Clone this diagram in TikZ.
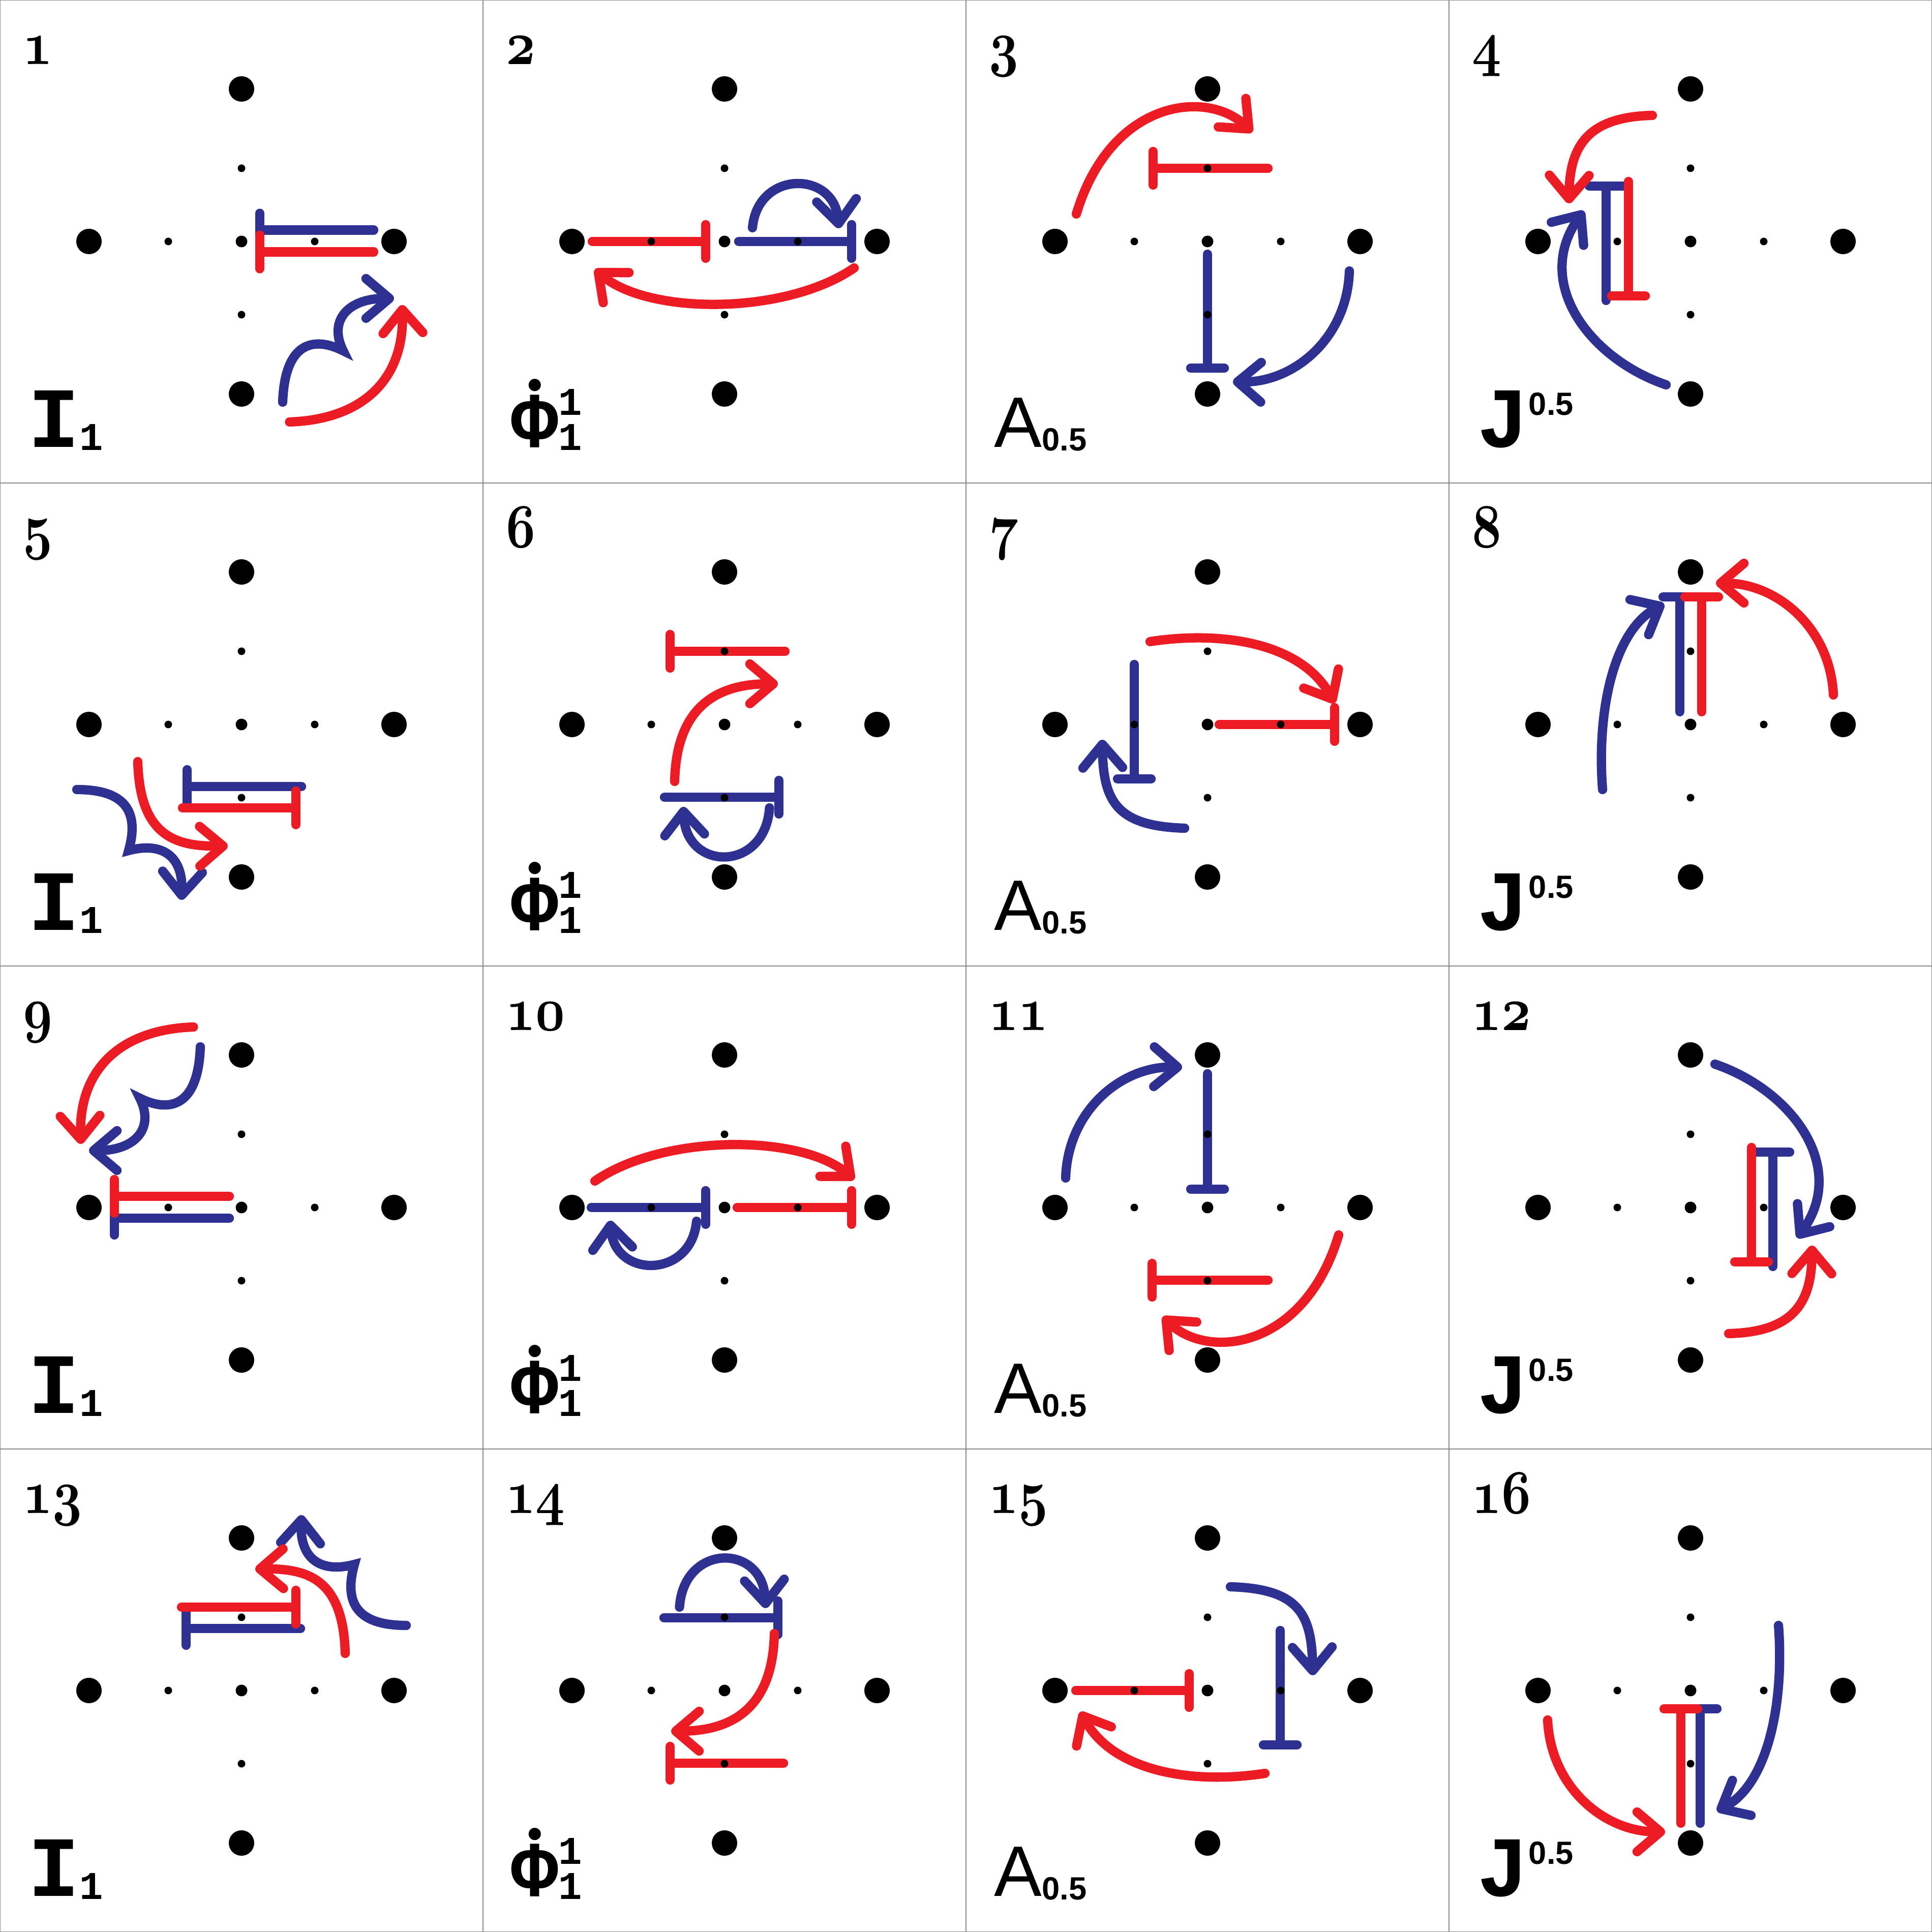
\documentclass[tikz,border=0pt]{standalone}
\usepackage{graphicx}
\usepackage{fontspec}
\usetikzlibrary{arrows.meta}
\newfontfamily\opmono{Liberation Mono}
\newfontfamily\opsans{Liberation Sans}
\definecolor{flipred}{HTML}{ED1C24}
\definecolor{flipblue}{HTML}{2E3192}
\definecolor{gridgray}{HTML}{8A8A8A}
% operator names under each panel
\newsavebox{\phibox}
\newcommand{\opI}{{\opmono\bfseries\fontsize{48}{48}\selectfont I\fontsize{22}{22}\selectfont\raisebox{-0.06cm}{1}}}
\newcommand{\opPhi}{{\opmono\bfseries\fontsize{44}{44}\selectfont
  \sbox{\phibox}{Φ}\rlap{\makebox[\wd\phibox]{\raisebox{\dimexpr\ht\phibox-0.08cm\relax}{\opsans\fontsize{24}{24}\selectfont •}}}\usebox{\phibox}%
  \fontsize{22}{22}\selectfont\rlap{\raisebox{0.63cm}{1}}\raisebox{-0.06cm}{1}}}
\newcommand{\opA}{{\opsans\fontsize{40}{40}\selectfont A\raisebox{-0.07cm}{\bfseries\fontsize{18}{18}\selectfont 0.5}}}
\newcommand{\opJ}{{\opmono\bfseries\fontsize{48}{48}\selectfont J\raisebox{0.63cm}{\opsans\bfseries\fontsize{18}{18}\selectfont 0.5}}}
\newcommand{\panelnum}[1]{\scalebox{1.15}[1.4]{\fontsize{24.88}{30}\usefont{OML}{cmm}{b}{it}#1}}
\tikzset{
  site/.style={circle, fill=black, inner sep=0pt, minimum size=5mm},
  core/.style={circle, fill=black, inner sep=0pt, minimum size=2.3mm},
  link/.style={circle, fill=black, inner sep=0pt, minimum size=1.5mm},
  gridline/.style={draw=gridgray, line width=0.8pt},
  redpath/.style={draw=flipred, line width=5.2pt, line cap=round},
  bluepath/.style={draw=flipblue, line width=5.2pt, line cap=round},
  hoparrow/.style={-{Straight Barb[length=4.6mm, width=7.8mm, round]}},
  tbar/.style={-{Bar[width=6.6mm, round]}},
  panelno/.style={anchor=base west, inner sep=0pt},
  opname/.style={anchor=base west, inner sep=0pt}
}

\begin{document}
\begin{tikzpicture}
  \useasboundingbox (0,0) rectangle (38,38);
  \fill[white] (0,0) rectangle (38,38);

  % grid of panels
  \draw[gridline] (0,0) rectangle (38,38);
  \foreach \t in {9.5,19,28.5} {
    \draw[gridline] (\t,0) -- (\t,38);
    \draw[gridline] (0,\t) -- (38,\t);
  }

  % panel 1
  \begin{scope}[shift={(4.75,33.25)}]
    \draw[bluepath, tbar] (2.6,0.224) -- (0.267,0.224);
    \draw[redpath, tbar] (2.6,-0.206) -- (0.267,-0.206);
    \draw[bluepath, hoparrow] (0.81,-3.16) .. controls (0.85,-2.0) and (1.4,-1.85) .. (2.0,-2.15)
      .. controls (1.7,-1.55) and (2.1,-1.12) .. (3.0,-1.12);
    \draw[redpath, hoparrow] (0.945,-3.55) .. controls (2.4,-3.5) and (3.2,-2.7) .. (3.16,-1.25);
  \end{scope}

  % panel 2
  \begin{scope}[shift={(14.25,33.25)}]
    \draw[redpath, tbar] (-2.6,0) -- (-0.28,0);
    \draw[bluepath, tbar] (0.28,0) -- (2.59,0);
    \draw[bluepath, hoparrow] (0.55,0.27) .. controls (0.65,1.4) and (2.15,1.4) .. (2.25,0.26);
    \draw[redpath, hoparrow] (2.55,-0.52) .. controls (1.2,-1.45) and (-1.5,-1.45) .. (-2.55,-0.55);
  \end{scope}

  % panel 3
  \begin{scope}[shift={(23.75,33.25)}]
    \draw[bluepath, tbar] (0,-0.25) -- (0,-2.58);
    \draw[redpath, tbar] (1.19,1.44) -- (-1.16,1.44);
    \draw[bluepath, hoparrow] (2.79,-0.58) .. controls (2.75,-1.9) and (1.7,-2.78) .. (0.5,-2.76);
    \draw[redpath, hoparrow] (-2.58,0.54) .. controls (-1.9,2.8) and (0,3.0) .. (0.88,2.15);
  \end{scope}

  % panel 4
  \begin{scope}[shift={(33.25,33.25)}]
    \draw[bluepath, tbar] (-1.66,-1.16) -- (-1.66,1.18);
    \draw[redpath, tbar] (-1.22,1.18) -- (-1.22,-1.16);
    \draw[bluepath, hoparrow] (-0.48,-2.82) .. controls (-2.0,-2.3) and (-3.1,-0.8) .. (-2.1,0.6);
    \draw[redpath, hoparrow] (-0.75,2.48) .. controls (-2.0,2.45) and (-2.38,1.9) .. (-2.39,0.75);
  \end{scope}

  % panel 5
  \begin{scope}[shift={(4.75,23.75)}]
    \draw[bluepath, tbar] (1.18,-1.22) -- (-1.16,-1.22);
    \draw[redpath, tbar] (-1.16,-1.64) -- (1.16,-1.64);
    \draw[bluepath, hoparrow] (-3.24,-1.28) .. controls (-2.3,-1.28) and (-2.0,-1.7) .. (-2.22,-2.48)
      .. controls (-1.55,-2.3) and (-1.15,-2.6) .. (-1.18,-3.45);
    \draw[redpath, hoparrow] (-2.04,-0.73) .. controls (-2.0,-2.2) and (-1.3,-2.4) .. (-0.27,-2.39);
  \end{scope}

  % panel 6
  \begin{scope}[shift={(14.25,23.75)}]
    \draw[bluepath, tbar] (-1.18,-1.43) -- (1.16,-1.43);
    \draw[redpath, tbar] (1.19,1.44) -- (-1.16,1.44);
    \draw[bluepath, hoparrow] (0.885,-1.64) .. controls (0.8,-2.9) and (-0.75,-2.9) .. (-0.81,-1.62);
    \draw[redpath, hoparrow] (-0.98,-1.12) .. controls (-0.95,0.3) and (-0.2,0.8) .. (1.05,0.8);
  \end{scope}

  % panel 7
  \begin{scope}[shift={(23.75,23.75)}]
    \draw[bluepath, tbar] (-1.44,1.18) -- (-1.44,-1.16);
    \draw[redpath, tbar] (0.23,0) -- (2.59,0);
    \draw[bluepath, hoparrow] (-0.45,-2.04) .. controls (-1.8,-2.0) and (-2.05,-1.5) .. (-2.07,-0.3);
    \draw[redpath, hoparrow] (-1.13,1.63) .. controls (0.3,1.85) and (1.85,1.6) .. (2.5,0.42);
  \end{scope}

  % panel 8
  \begin{scope}[shift={(33.25,23.75)}]
    \draw[bluepath, tbar] (-0.21,0.25) -- (-0.21,2.6);
    \draw[redpath, tbar] (0.22,0.25) -- (0.22,2.6);
    \draw[bluepath, hoparrow] (-1.73,-1.28) .. controls (-1.85,0.3) and (-1.5,1.85) .. (-0.52,2.37);
    \draw[redpath, hoparrow] (2.81,0.58) .. controls (2.75,1.9) and (1.7,2.78) .. (0.5,2.78);
  \end{scope}

  % panel 9
  \begin{scope}[shift={(4.75,14.25)}]
    \draw[bluepath, tbar] (-0.24,-0.21) -- (-2.59,-0.21);
    \draw[redpath, tbar] (-0.24,0.22) -- (-2.59,0.22);
    \draw[bluepath, hoparrow] (-0.81,3.16) .. controls (-0.85,2.0) and (-1.4,1.85) .. (-2.0,2.15)
      .. controls (-1.7,1.55) and (-2.1,1.12) .. (-3.0,1.12);
    \draw[redpath, hoparrow] (-0.945,3.55) .. controls (-2.4,3.5) and (-3.2,2.7) .. (-3.16,1.25);
  \end{scope}

  % panel 10
  \begin{scope}[shift={(14.25,14.25)}]
    \draw[bluepath, tbar] (-2.62,0) -- (-0.28,0);
    \draw[redpath, tbar] (0.25,0) -- (2.59,0);
    \draw[bluepath, hoparrow] (-0.55,-0.27) .. controls (-0.65,-1.4) and (-2.15,-1.4) .. (-2.25,-0.26);
    \draw[redpath, hoparrow] (-2.55,0.52) .. controls (-1.2,1.45) and (1.5,1.45) .. (2.55,0.55);
  \end{scope}

  % panel 11
  \begin{scope}[shift={(23.75,14.25)}]
    \draw[bluepath, tbar] (0,2.63) -- (0,0.27);
    \draw[redpath, tbar] (1.19,-1.43) -- (-1.18,-1.43);
    \draw[bluepath, hoparrow] (-2.79,0.58) .. controls (-2.75,1.9) and (-1.7,2.78) .. (-0.5,2.76);
    \draw[redpath, hoparrow] (2.58,-0.54) .. controls (1.9,-2.8) and (0,-3.0) .. (-0.88,-2.15);
  \end{scope}

  % panel 12
  \begin{scope}[shift={(33.25,14.25)}]
    \draw[bluepath, tbar] (1.62,-1.16) -- (1.62,1.18);
    \draw[redpath, tbar] (1.2,1.18) -- (1.2,-1.16);
    \draw[bluepath, hoparrow] (0.48,2.82) .. controls (2.0,2.3) and (3.1,0.8) .. (2.1,-0.6);
    \draw[redpath, hoparrow] (0.75,-2.48) .. controls (2.0,-2.45) and (2.38,-1.9) .. (2.39,-0.75);
  \end{scope}

  % panel 13
  \begin{scope}[shift={(4.75,4.75)}]
    \draw[bluepath, tbar] (1.16,1.22) -- (-1.18,1.22);
    \draw[redpath, tbar] (-1.18,1.64) -- (1.16,1.64);
    \draw[bluepath, hoparrow] (3.24,1.28) .. controls (2.3,1.28) and (2.0,1.7) .. (2.22,2.48)
      .. controls (1.55,2.3) and (1.15,2.6) .. (1.18,3.45);
    \draw[redpath, hoparrow] (2.04,0.73) .. controls (2.0,2.2) and (1.3,2.4) .. (0.27,2.39);
  \end{scope}

  % panel 14
  \begin{scope}[shift={(14.25,4.75)}]
    \draw[bluepath, tbar] (-1.19,1.43) -- (1.14,1.43);
    \draw[redpath, tbar] (1.16,-1.43) -- (-1.16,-1.43);
    \draw[bluepath, hoparrow] (-0.885,1.64) .. controls (-0.8,2.9) and (0.75,2.9) .. (0.81,1.62);
    \draw[redpath, hoparrow] (0.98,1.12) .. controls (0.95,-0.3) and (0.2,-0.8) .. (-1.05,-0.8);
  \end{scope}

  % panel 15
  \begin{scope}[shift={(23.75,4.75)}]
    \draw[bluepath, tbar] (1.43,1.18) -- (1.43,-1.16);
    \draw[redpath, tbar] (-2.59,0) -- (-0.27,0);
    \draw[bluepath, hoparrow] (0.45,2.04) .. controls (1.8,2.0) and (2.05,1.5) .. (2.07,0.3);
    \draw[redpath, hoparrow] (1.13,-1.63) .. controls (-0.3,-1.85) and (-1.85,-1.6) .. (-2.5,-0.42);
  \end{scope}

  % panel 16
  \begin{scope}[shift={(33.25,4.75)}]
    \draw[bluepath, tbar] (0.19,-2.61) -- (0.19,-0.27);
    \draw[redpath, tbar] (-0.19,-2.61) -- (-0.19,-0.27);
    \draw[bluepath, hoparrow] (1.73,1.28) .. controls (1.85,-0.3) and (1.5,-1.85) .. (0.52,-2.37);
    \draw[redpath, hoparrow] (-2.81,-0.58) .. controls (-2.75,-1.9) and (-1.7,-2.78) .. (-0.5,-2.78);
  \end{scope}

  % sites, numbers and operator names
  \foreach \k in {1,...,16} {
    \pgfmathtruncatemacro{\col}{mod(\k-1,4)}
    \pgfmathtruncatemacro{\row}{(\k-1)/4}
    \begin{scope}[shift={(9.5*\col+4.75,33.25-9.5*\row)}]
      \node[site] (p\k-N) at (0,3) {};
      \node[site] (p\k-E) at (3,0) {};
      \node[site] (p\k-S) at (0,-3) {};
      \node[site] (p\k-W) at (-3,0) {};
      \node[core] (p\k-c) at (0,0) {};
      \node[link] (p\k-n) at (0,1.44) {};
      \node[link] (p\k-e) at (1.44,0) {};
      \node[link] (p\k-s) at (0,-1.44) {};
      \node[link] (p\k-w) at (-1.44,0) {};
      \node[panelno] (no\k) at (-4.3,3.48) {\panelnum{\k}};
      \node[opname] (op\k) at (-4.2,-4.05) {\ifcase\col\opI\or\opPhi\or\opA\or\opJ\fi};
    \end{scope}
  }
\end{tikzpicture}
\end{document}
